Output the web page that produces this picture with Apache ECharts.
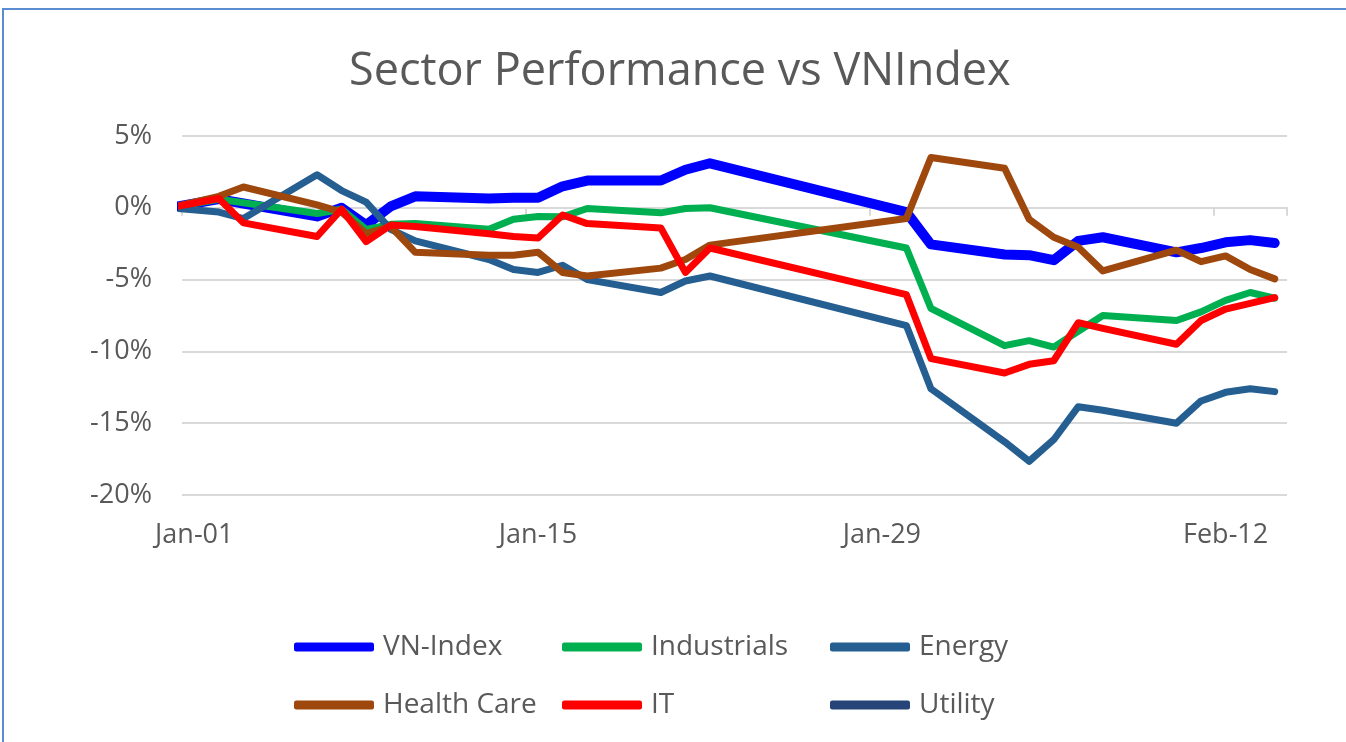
<!DOCTYPE html>
<html>
<head>
<meta charset="utf-8">
<title>Sector Performance vs VNIndex</title>
<script src="https://cdn.jsdelivr.net/npm/echarts@6/dist/echarts.min.js"></script>
<style>
  html, body { margin: 0; padding: 0; background: #fff; }
  #chart { width: 1346px; height: 742px; }
</style>
</head>
<body>
<div id="chart"></div>
<script>
'use strict';

// trading days as day-of-year (Dec-31 = 0, Jan-01 = 1 ... Feb-14 = 45)
var days = [0, 2, 3, 6, 7, 8, 9, 10, 13, 14, 15, 16, 17, 20, 21, 22,
    30, 31, 34, 35, 36, 37, 38, 41, 42, 43, 44, 45];

// cumulative return, %
var vnIndex = [0, 0.6, 0.3, -0.6, 0.0, -1.2, 0.1, 0.8, 0.65, 0.7, 0.7, 1.5, 1.9, 1.9, 2.65, 3.1,
    -0.3, -2.55, -3.25, -3.3, -3.65, -2.3, -2.05, -3.1, -2.8, -2.4, -2.25, -2.45];
var industrials = [0, 0.6, 0.35, -0.4, -0.1, -1.5, -1.15, -1.1, -1.5, -0.8, -0.6, -0.63, -0.05, -0.35, -0.05, 0.0,
    -2.8, -7.0, -9.6, -9.25, -9.7, -8.6, -7.5, -7.85, -7.25, -6.45, -5.9, -6.3];
var energy = [0, -0.3, -0.75, 2.3, 1.2, 0.4, -1.5, -2.3, -3.6, -4.3, -4.5, -4.0, -5.0, -5.9, -5.1, -4.75,
    -8.2, -12.6, -16.3, -17.65, -16.15, -13.85, -14.1, -15.0, -13.45, -12.85, -12.6, -12.8];
var healthCare = [0, 0.8, 1.45, 0.2, -0.3, -1.8, -1.3, -3.1, -3.3, -3.3, -3.1, -4.5, -4.75, -4.2, -3.6, -2.6,
    -0.75, 3.5, 2.75, -0.8, -2.05, -2.75, -4.4, -2.95, -3.75, -3.35, -4.3, -4.95];
var it = [0, 0.65, -1.05, -2.0, -0.1, -2.35, -1.2, -1.3, -1.8, -2.0, -2.1, -0.5, -1.1, -1.4, -4.5, -2.8,
    -6.05, -10.5, -11.5, -10.9, -10.65, -8.0, -8.4, -9.5, -7.85, -7.05, -6.65, -6.25];
var utility = [];

var months = [['Jan', 31], ['Feb', 14]];
var tickLabels = ['Jan-01', 'Jan-15', 'Jan-29', 'Feb-12'];
var yTicks = [5, 0, -5, -10, -15, -20];

// one category per calendar day, Jan-01 .. Feb-14
var calendar = [];
months.forEach(function (m) {
    for (var d = 1; d <= m[1]; d++) {
        calendar.push(m[0] + '-' + (d < 10 ? '0' + d : d));
    }
});

function pairs(values) {
    return values.map(function (v, i) { return [days[i], v]; });
}

var font = '"Open Sans", "Noto Sans", sans-serif';
var grey = '#595959';
var gridGrey = '#d9d9d9';

var chart = echarts.init(document.getElementById('chart'));

function makeSeries(name, values, color, width) {
    return {
        name: name,
        type: 'line',
        xAxisIndex: 2,
        data: pairs(values),
        showSymbol: false,
        symbol: 'none',
        color: color,
        lineStyle: { color: color, width: width, cap: 'round', join: 'round' },
        emphasis: { disabled: true }
    };
}

// one legend per entry, laid out as a 3 x 2 table
function legendItem(name, col, row) {
    return {
        data: [name],
        left: 289 + col * 268,
        top: 628 + row * 58,
        icon: 'roundRect',
        itemWidth: 80,
        itemHeight: 9,
        selectedMode: false,
        textStyle: {
            fontFamily: font,
            fontSize: 28,
            color: grey,
            padding: [0, 0, 0, 4]
        }
    };
}

var options = {
    animation: false,
    backgroundColor: '#fff',
    title: {
        text: 'Sector Performance vs VNIndex',
        left: 349,
        top: 50,
        padding: 0,
        textStyle: {
            fontFamily: font,
            fontSize: 45,
            fontWeight: 'normal',
            color: grey
        }
    },
    legend: [
        legendItem('VN-Index', 0, 0),
        legendItem('Industrials', 1, 0),
        legendItem('Energy', 2, 0),
        legendItem('Health Care', 0, 1),
        legendItem('IT', 1, 1),
        legendItem('Utility', 2, 1)
    ],
    graphic: [{
        type: 'rect',
        shape: { x: 3, y: 9, width: 1400, height: 800 },
        style: { fill: 'none', stroke: '#5b8bd0', lineWidth: 2 },
        silent: true
    }],
    grid: {
        left: 182,
        right: 59,
        top: 136,
        bottom: 247
    },
    xAxis: [
        {
            type: 'category',
            data: calendar,
            boundaryGap: true,
            position: 'bottom',
            axisLine: { show: false, onZero: false },
            axisTick: { show: false },
            splitLine: { show: false },
            axisLabel: {
                interval: 13,
                margin: 27,
                fontFamily: font,
                fontSize: 27,
                color: grey,
                formatter: function (v) { return tickLabels.indexOf(v) >= 0 ? v : ''; }
            }
        },
        {
            type: 'category',
            data: calendar,
            boundaryGap: true,
            position: 'bottom',
            axisLine: { show: true, onZero: true, lineStyle: { color: gridGrey, width: 2 } },
            axisTick: { show: true, interval: 13, length: 8, lineStyle: { color: gridGrey, width: 2 } },
            axisLabel: { show: false },
            splitLine: { show: false }
        },
        {
            type: 'value',
            min: 0.5,
            max: 45.5,
            show: false
        }
    ],
    yAxis: {
        type: 'value',
        min: yTicks[yTicks.length - 1],
        max: yTicks[0],
        interval: 5,
        axisLine: { show: false },
        axisTick: { show: false },
        splitLine: { lineStyle: { color: gridGrey, width: 2 } },
        axisLabel: {
            margin: 30,
            fontFamily: font,
            fontSize: 27,
            color: grey,
            formatter: '{value}%'
        }
    },
    series: [
        makeSeries('VN-Index', vnIndex, '#0000ff', 10),
        makeSeries('Industrials', industrials, '#00b050', 7),
        makeSeries('Energy', energy, '#255e91', 7),
        makeSeries('Health Care', healthCare, '#9e480e', 7),
        makeSeries('IT', it, '#ff0000', 7),
        makeSeries('Utility', utility, '#264478', 7)
    ]
};

chart.setOption(options);
</script>
</body>
</html>
